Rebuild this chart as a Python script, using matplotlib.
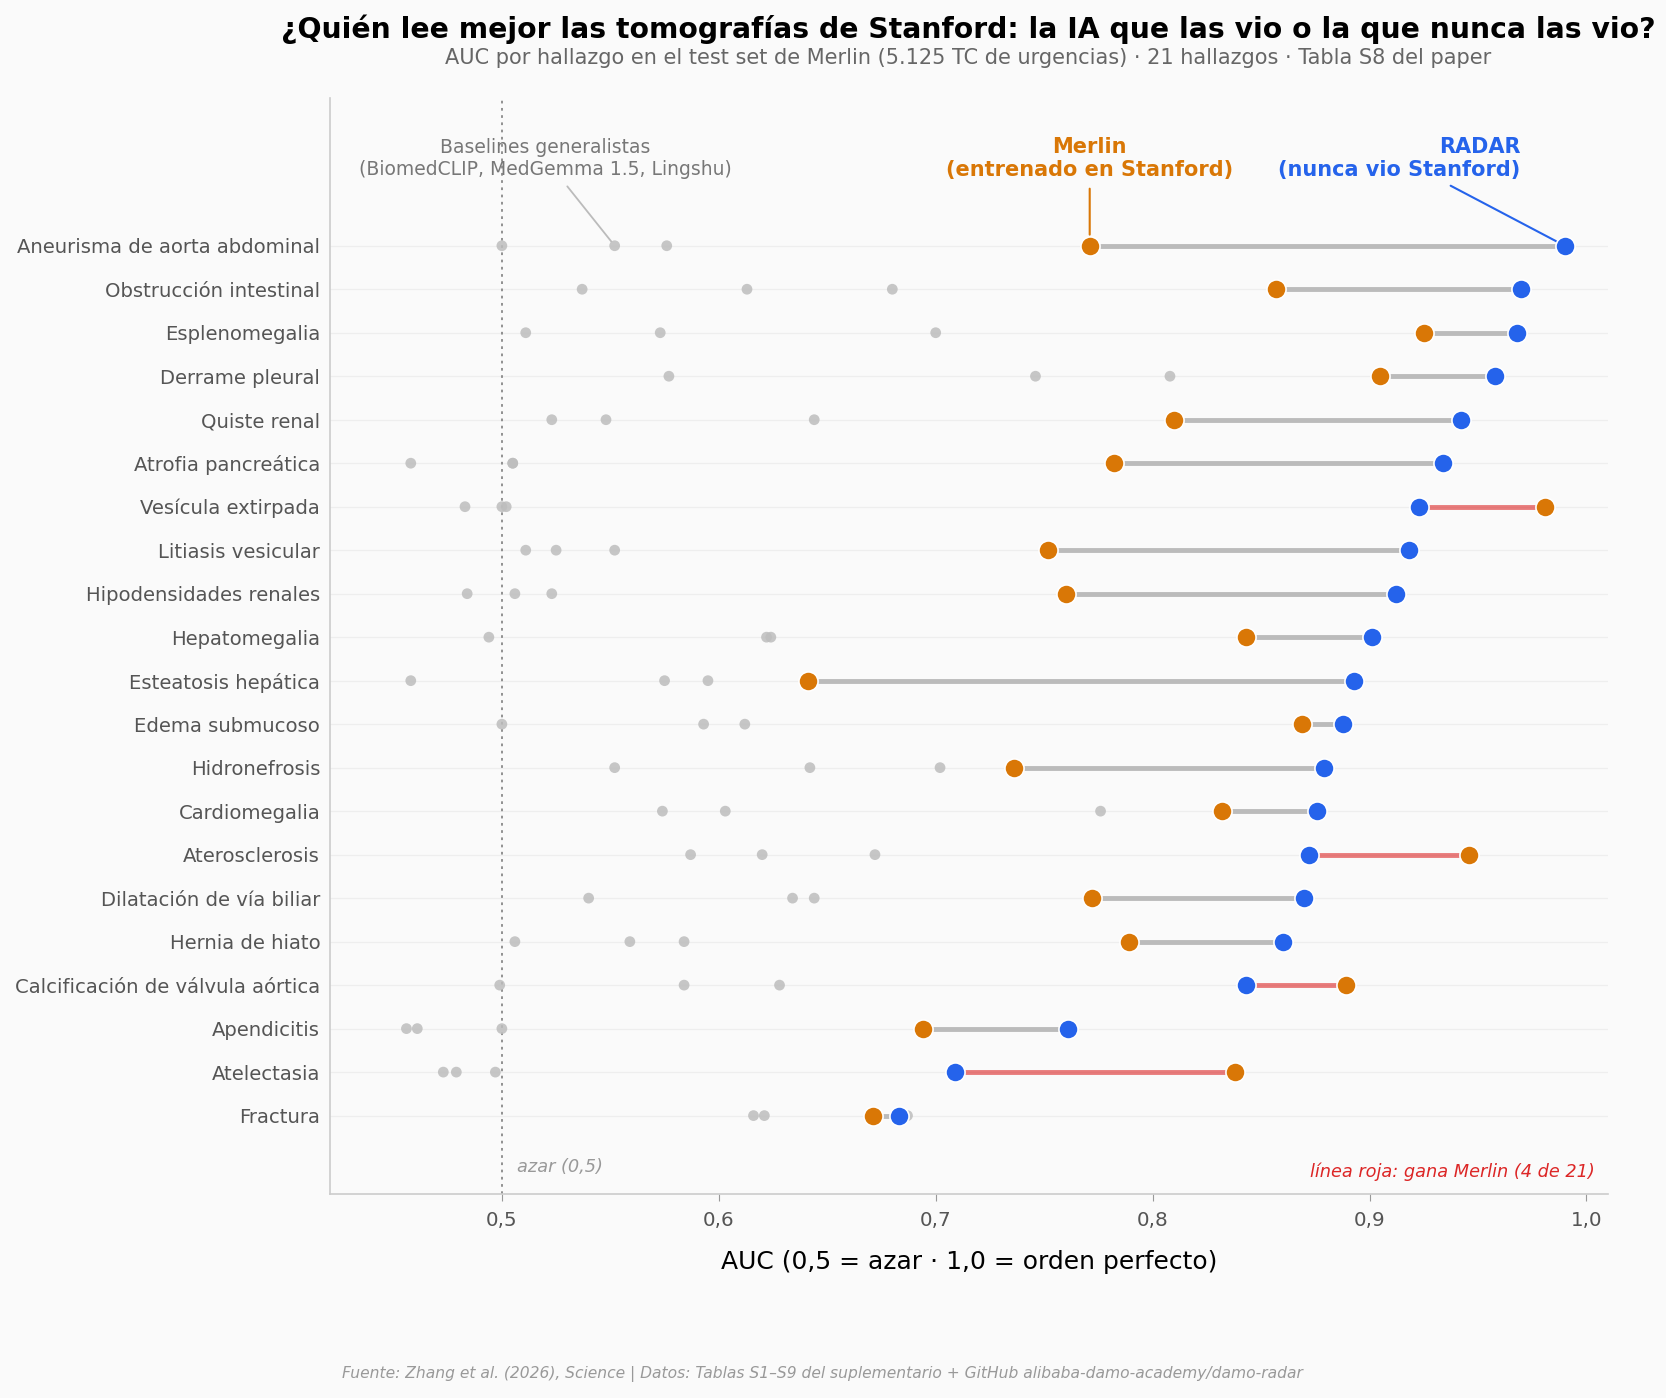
import matplotlib
matplotlib.use("Agg")
from matplotlib import pyplot as plt
from matplotlib.ticker import FuncFormatter

# AUC por hallazgo (Tabla S8), ordenado por RADAR
hallazgos = ["Aneurisma de aorta abdominal", "Obstrucción intestinal", "Esplenomegalia",
             "Derrame pleural", "Quiste renal", "Atrofia pancreática", "Vesícula extirpada",
             "Litiasis vesicular", "Hipodensidades renales", "Hepatomegalia",
             "Esteatosis hepática", "Edema submucoso", "Hidronefrosis", "Cardiomegalia",
             "Aterosclerosis", "Dilatación de vía biliar", "Hernia de hiato",
             "Calcificación de válvula aórtica", "Apendicitis", "Atelectasia", "Fractura"]
radar = [0.990, 0.970, 0.968, 0.958, 0.942, 0.934, 0.923, 0.918, 0.912, 0.901, 0.893,
         0.888, 0.879, 0.876, 0.872, 0.870, 0.860, 0.843, 0.761, 0.709, 0.683]
merlin = [0.771, 0.857, 0.925, 0.905, 0.810, 0.782, 0.981, 0.752, 0.760, 0.843, 0.641,
          0.869, 0.736, 0.832, 0.946, 0.772, 0.789, 0.889, 0.694, 0.838, 0.671]
# baselines generalistas (tres modelos, valores por fila de menor a mayor)
base_lo = [0.500, 0.537, 0.511, 0.577, 0.523, 0.458, 0.483, 0.511, 0.484, 0.494, 0.458,
           0.500, 0.552, 0.574, 0.587, 0.540, 0.506, 0.499, 0.456, 0.473, 0.616]
base_mid = [0.552, 0.613, 0.573, 0.746, 0.548, 0.505, 0.500, 0.525, 0.506, 0.622, 0.575,
            0.593, 0.642, 0.603, 0.620, 0.634, 0.559, 0.584, 0.461, 0.479, 0.621]
base_hi = [0.576, 0.680, 0.700, 0.808, 0.644, 0.505, 0.502, 0.552, 0.523, 0.624, 0.595,
           0.612, 0.702, 0.776, 0.672, 0.644, 0.584, 0.628, 0.500, 0.497, 0.687]

C_MERLIN = "#D97706"
C_RADAR = "#2563EB"
C_RED = "#DC2626"
BG = "#FAFAFA"

fig = plt.figure(figsize=(16.66, 13.98), dpi=100, facecolor=BG)
ax = fig.add_axes([0.198, 0.146, 0.767, 0.784], facecolor=BG)

ys = list(range(len(hallazgos)))

for y in ys:
    ax.axhline(y, color="#EEEEEE", lw=0.9, zorder=0)
ax.axvline(0.5, color="#888888", lw=1.3, ls=(0, (1.5, 2.5)), zorder=1)

for base in (base_lo, base_mid, base_hi):
    ax.scatter(base, ys, s=60, color="#BDBDBD", alpha=0.85, edgecolors="none", zorder=2)

for y, r, m in zip(ys, radar, merlin):
    if m > r:
        ax.plot([r, m], [y, y], color=C_RED, alpha=0.6, lw=3.5, solid_capstyle="butt", zorder=3)
    else:
        ax.plot([m, r], [y, y], color="#BBBBBB", lw=3.5, solid_capstyle="butt", zorder=3)

ax.scatter(merlin, ys, s=190, color=C_MERLIN, edgecolors="white", linewidths=1.2, zorder=4)
ax.scatter(radar, ys, s=190, color=C_RADAR, edgecolors="white", linewidths=1.2, zorder=5)

ax.set_xlim(0.4207, 1.0098)
ax.set_ylim(21.8, -3.4)
ax.set_yticks(ys)
ax.set_yticklabels(hallazgos)
ax.set_xticks([0.5, 0.6, 0.7, 0.8, 0.9, 1.0])
ax.xaxis.set_major_formatter(FuncFormatter(lambda v, p: f"{v:.1f}".replace(".", ",")))
ax.tick_params(axis="y", length=0, labelsize=14.1, labelcolor="#555555", pad=7)
ax.tick_params(axis="x", length=5, color="#999999", labelsize=14.3, labelcolor="#555555", pad=7)
for side in ("top", "right"):
    ax.spines[side].set_visible(False)
for side in ("left", "bottom"):
    ax.spines[side].set_color("#CCCCCC")
    ax.spines[side].set_linewidth(1.2)

ax.set_xlabel("AUC (0,5 = azar · 1,0 = orden perfecto)", fontsize=18, color="black", labelpad=15)

# anotaciones
ax.annotate("Baselines generalistas\n(BiomedCLIP, MedGemma 1.5, Lingshu)",
            xy=(base_mid[0], 0), xytext=(0.520, -2.0), ha="center", va="center",
            fontsize=13.5, color="#777777",
            arrowprops=dict(arrowstyle="-", color="#BBBBBB", lw=1.3, shrinkA=4, shrinkB=4))
ax.annotate("Merlin\n(entrenado en Stanford)", xy=(merlin[0], 0), xytext=(merlin[0], -2.0),
            ha="center", va="center", fontsize=15, fontweight="bold", color=C_MERLIN,
            arrowprops=dict(arrowstyle="-", color=C_MERLIN, lw=1.5, shrinkA=4, shrinkB=8))
ax.annotate("RADAR\n(nunca vio Stanford)", xy=(radar[0], 0), xytext=(0.9696, -2.0),
            ha="right", va="center", multialignment="right", fontsize=15,
            fontweight="bold", color=C_RADAR,
            arrowprops=dict(arrowstyle="-", color=C_RADAR, lw=1.5, shrinkA=4, shrinkB=6))

ax.text(0.507, 21.18, "azar (0,5)", fontsize=12.8, style="italic", color="#999999",
        ha="left", va="center")
ax.text(0.9897, 0.02, "línea roja: gana Merlin (4 de 21)", transform=ax.transAxes,
        fontsize=12.8, style="italic", color=C_RED, ha="right", va="center")

fig.text(0.581, 0.979, "¿Quién lee mejor las tomografías de Stanford: la IA que las vio o la que nunca las vio?",
         fontsize=20.3, fontweight="bold", color="black", ha="center", va="center")
fig.text(0.581, 0.9585, "AUC por hallazgo en el test set de Merlin (5.125 TC de urgencias) · 21 hallazgos · Tabla S8 del paper",
         fontsize=15.05, color="#666666", ha="center", va="center")
fig.text(0.4935, 0.0175, "Fuente: Zhang et al. (2026), Science | Datos: Tablas S1–S9 del suplementario + GitHub alibaba-damo-academy/damo-radar",
         fontsize=11.2, style="italic", color="#999999", ha="center", va="center")

fig.savefig("out.png", dpi=100, facecolor=BG)
